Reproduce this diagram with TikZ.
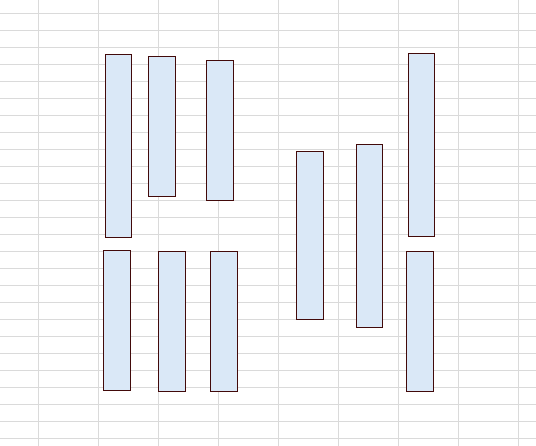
\documentclass[tikz,border=0pt]{standalone}
\definecolor{gridc}{HTML}{DADADA}
\definecolor{barfill}{HTML}{DAE8F7}
\definecolor{barline}{HTML}{420A0A}
\tikzset{
  gridline/.style={draw=gridc, line width=1pt},
  bar/.style={draw=barline, fill=barfill, line width=1pt}
}
\begin{document}
\begin{tikzpicture}[x=1pt,y=-1pt]
\fill[white] (0,0) rectangle (536,446);
\useasboundingbox (0,0) rectangle (536,446);
% grid
\foreach \k in {0,...,25} {
  \draw[gridline] (0,{13.3+17*\k}) -- (536,{13.3+17*\k});
}
\foreach \k in {0,...,8} {
  \draw[gridline] ({38.5+60*\k},0) -- ({38.5+60*\k},446);
}
% bars
\draw[bar] (105.5,54.5) rectangle (131.5,237.3);
\draw[bar] (148.5,56.5) rectangle (175.5,196.3);
\draw[bar] (206.5,60.5) rectangle (233.3,200.3);
\draw[bar] (103.5,250.3) rectangle (130.3,390.3);
\draw[bar] (158.5,251.3) rectangle (185.3,391.3);
\draw[bar] (210.5,251.3) rectangle (237.3,391.3);
\draw[bar] (296.5,151.5) rectangle (323.3,319.3);
\draw[bar] (356.5,144.5) rectangle (382.3,327.3);
\draw[bar] (408.5,53.5) rectangle (434.3,236.3);
\draw[bar] (406.5,251.3) rectangle (433.3,391.3);
\end{tikzpicture}
\end{document}
